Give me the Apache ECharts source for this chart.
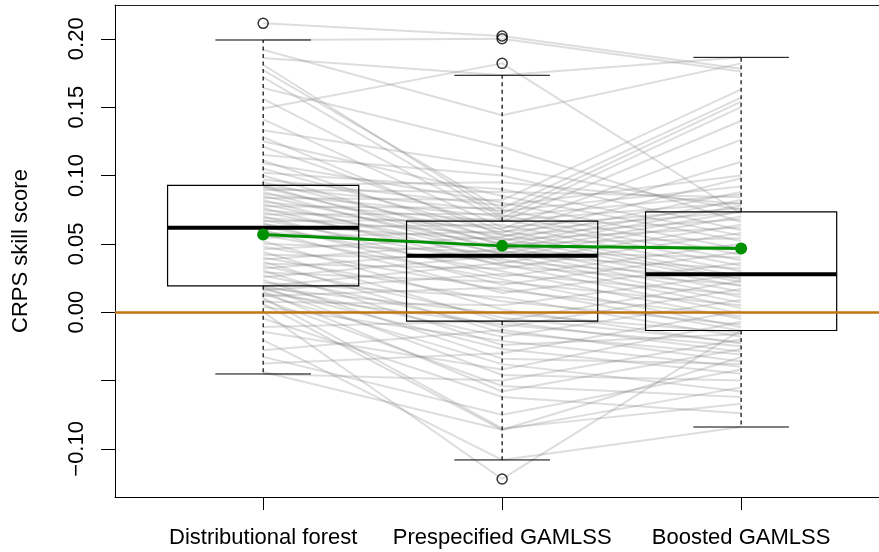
<!DOCTYPE html>
<html><head><meta charset="utf-8">
<script src="https://cdn.jsdelivr.net/npm/echarts@6/dist/echarts.min.js"></script>
<style>html,body{margin:0;padding:0;background:#fff}#c{width:879px;height:552px}</style>
</head><body><div id="c"></div>
<script>
const methods = ['Distributional forest', 'Prespecified GAMLSS', 'Boosted GAMLSS'];
const methodPos = [1, 2, 3];

const dfScore = [-0.0452,-0.0437,-0.0376,-0.0327,-0.0278,-0.0205,-0.0144,-0.0108,-0.0046,0.0002,
0.0039,0.0060,0.0076,0.0090,0.0105,0.0118,0.0130,0.0137,0.0150,0.0160,
0.0170,0.0178,0.0185,0.0190,0.0196,0.0215,0.0235,0.0255,0.0270,0.0290,
0.0305,0.0320,0.0340,0.0355,0.0370,0.0385,0.0400,0.0420,0.0440,0.0460,
0.0480,0.0500,0.0520,0.0545,0.0565,0.0585,0.0600,0.0617,0.0625,0.0640,
0.0650,0.0665,0.0675,0.0690,0.0700,0.0715,0.0730,0.0745,0.0760,0.0775,
0.0790,0.0805,0.0820,0.0835,0.0850,0.0865,0.0880,0.0895,0.0910,0.0920,
0.0925,0.0930,0.0950,0.0970,0.1000,0.1020,0.1050,0.1090,0.1110,0.1150,
0.1210,0.1250,0.1280,0.1330,0.1410,0.1490,0.1560,0.1640,0.1720,0.1770,
0.1810,0.1860,0.1920,0.1991,0.2113];

const gamScore = [-0.050,-0.086,-0.030,-0.075,-0.013,-0.1081,-0.042,-0.0064,-0.062,-0.122,
-0.021,-0.086,0.005,-0.054,-0.085,0.018,-0.038,-0.009,-0.058,0.028,
-0.027,-0.001,-0.046,0.036,-0.018,0.011,-0.034,0.0412,-0.011,0.022,
-0.024,0.046,-0.004,0.032,-0.015,0.051,0.008,0.039,-0.0068,0.055,
0.016,0.044,0.002,0.059,0.024,0.048,0.014,0.064,0.030,0.053,
0.020,0.068,0.035,0.057,0.026,0.072,0.040,0.061,0.034,0.076,
0.043,0.0663,0.037,0.082,0.047,0.070,0.042,0.088,0.050,0.074,
0.045,0.095,0.054,0.078,0.049,0.090,0.058,0.080,0.052,0.100,
0.060,0.085,0.056,0.106,0.062,0.182,0.0669,0.121,0.069,0.075,
0.071,0.1733,0.144,0.200,0.202];

const booScore = [-0.020,-0.055,0.001,-0.042,-0.036,-0.084,-0.007,0.023,-0.074,-0.0132,
-0.040,-0.033,0.0278,-0.062,-0.067,-0.0136,-0.058,-0.025,-0.027,0.013,
-0.045,-0.015,-0.050,0.064,0.009,-0.018,-0.038,0.032,0.017,0.005,
-0.016,0.078,-0.022,0.058,-0.031,0.019,-0.009,0.003,-0.029,0.098,
-0.003,0.040,-0.023,0.0732,-0.011,0.015,0.036,0.030,-0.005,0.062,
0.044,0.034,-0.001,0.024,0.050,0.154,0.070,0.126,0.020,0.157,
0.0736,0.140,0.025,0.163,0.048,0.086,0.007,0.084,0.054,0.092,
0.011,0.079,0.022,0.100,0.082,0.056,0.110,0.046,0.088,0.060,
0.026,0.052,0.068,0.075,0.076,0.072,0.080,0.066,0.150,0.042,
0.038,0.1864,0.182,0.176,0.178];

const overallSkill = [0.0569, 0.0485, 0.0466];

const yTickValues = [-0.10, -0.05, 0.00, 0.05, 0.10, 0.15, 0.20];
const yLabelValues = [-0.10, 0.00, 0.05, 0.10, 0.15, 0.20];
const yTitle = 'CRPS skill score';

// R-style boxplot statistics (fivenum hinges, 1.5 IQR whiskers)
function fivenum(arr) {
  const s = arr.slice().sort((a, b) => a - b);
  const n = s.length;
  const n4 = Math.floor((n + 3) / 2) / 2;
  const d = [1, n4, (n + 1) / 2, n + 1 - n4, n];
  return d.map(v => 0.5 * (s[Math.floor(v) - 1] + s[Math.ceil(v) - 1]));
}
function boxStats(arr) {
  const f = fivenum(arr);
  const iqr = f[3] - f[1];
  const lo = f[1] - 1.5 * iqr, hi = f[3] + 1.5 * iqr;
  const inside = arr.filter(v => v >= lo && v <= hi);
  return {lo: Math.min(...inside), q1: f[1], med: f[2], q3: f[3], hi: Math.max(...inside),
          out: arr.filter(v => v < lo || v > hi)};
}
const allScores = [dfScore, gamScore, booScore];
const stats = allScores.map(boxStats);
const boxData = stats.map((s, i) => [methodPos[i], s.lo, s.q1, s.med, s.q3, s.hi]);
const outlierData = [];
stats.forEach((s, i) => s.out.forEach(v => outlierData.push([methodPos[i], v])));

const FONT = '"Liberation Sans", Arial, Helvetica, sans-serif';
const X_MIN = 0.38, X_MAX = 3.577;
const stationSeries = dfScore.map((v, i) => ({
  type: 'line', silent: true, z: 2, symbol: 'none', animation: false,
  data: [[methodPos[0], dfScore[i]], [methodPos[1], gamScore[i]], [methodPos[2], booScore[i]]],
  lineStyle: {color: 'rgba(128,128,128,0.27)', width: 2}
}));

const chart = echarts.init(document.getElementById('c'), null, {renderer: 'canvas'});
chart.setOption({
  animation: false,
  backgroundColor: '#fff',
  textStyle: {fontFamily: FONT},
  grid: {left: 115, top: 5, right: 0, bottom: 55, show: false},
  xAxis: [{
    type: 'value', min: X_MIN, max: X_MAX, position: 'bottom',
    splitLine: {show: false},
    axisLine: {show: true, onZero: false, lineStyle: {color: '#000', width: 1}},
    axisTick: {show: true, length: 13, customValues: methodPos, lineStyle: {color: '#000', width: 1}},
    axisLabel: {customValues: methodPos, margin: 30, fontSize: 22, color: '#000', fontFamily: FONT,
      formatter: v => methods[Math.round(v) - 1] || ''}
  }, {
    type: 'value', min: X_MIN, max: X_MAX, position: 'top',
    splitLine: {show: false},
    axisLine: {show: true, onZero: false, lineStyle: {color: '#222', width: 1}},
    axisTick: {show: false}, axisLabel: {show: false}
  }],
  yAxis: {
    type: 'value', min: -0.1352, max: 0.2247,
    splitLine: {show: false},
    axisLine: {show: true, onZero: false, lineStyle: {color: '#000', width: 1}},
    axisTick: {show: true, length: 14, customValues: yTickValues, lineStyle: {color: '#000', width: 1}},
    axisLabel: {customValues: yLabelValues, rotate: 90, margin: 27, fontSize: 22, color: '#000', fontFamily: FONT,
      formatter: v => (v < -1e-9 ? '\u2212' : '') + Math.abs(v).toFixed(2)}
  },
  graphic: [{
    type: 'text', rotation: Math.PI / 2, x: 9.5, y: 251,
    style: {text: yTitle, font: '22px ' + FONT, fill: '#000', textAlign: 'center', textVerticalAlign: 'top'}
  }],
  series: stationSeries.concat([
    {
      type: 'custom', z: 3, silent: true,
      encode: {x: 0, y: [1, 2, 3, 4, 5]},
      data: boxData,
      renderItem: function (params, api) {
        const x = api.value(0);
        const lo = api.value(1), q1 = api.value(2), med = api.value(3), q3 = api.value(4), hi = api.value(5);
        const p = (a, b) => api.coord([a, b]);
        const seg = (a, b, style) => ({type: 'line', shape: {x1: a[0], y1: a[1], x2: b[0], y2: b[1]}, style: style});
        const solid = {stroke: '#000', lineWidth: 1};
        const dash = {stroke: '#000', lineWidth: 1.2, lineDash: [4, 3.5]};
        const bl = p(x - 0.4, q1), tr = p(x + 0.4, q3);
        return {type: 'group', children: [
          seg(p(x, q3), p(x, hi), dash),
          seg(p(x, q1), p(x, lo), dash),
          seg(p(x - 0.2, hi), p(x + 0.2, hi), solid),
          seg(p(x - 0.2, lo), p(x + 0.2, lo), solid),
          {type: 'rect', shape: {x: bl[0], y: tr[1], width: tr[0] - bl[0], height: bl[1] - tr[1]},
           style: {fill: 'transparent', stroke: '#000', lineWidth: 1.2}},
          seg(p(x - 0.4, med), p(x + 0.4, med), {stroke: '#000', lineWidth: 4})
        ]};
      }
    },
    {
      type: 'scatter', z: 4, silent: true, data: outlierData,
      symbol: 'circle', symbolSize: 10,
      itemStyle: {color: 'transparent', borderColor: '#000', borderWidth: 1.5}
    },
    {
      type: 'line', z: 5, silent: true, data: [],
      markLine: {silent: true, symbol: ['none', 'none'], label: {show: false},
        lineStyle: {color: '#C27612', width: 2.5, type: 'solid'},
        data: [{yAxis: 0}]}
    },
    {
      type: 'line', z: 6, silent: true,
      data: overallSkill.map((v, i) => [methodPos[i], v]),
      symbol: 'circle', symbolSize: 12, showSymbol: true,
      itemStyle: {color: '#009100'},
      lineStyle: {color: '#009100', width: 3}
    }
  ])
});
</script>
</body></html>
